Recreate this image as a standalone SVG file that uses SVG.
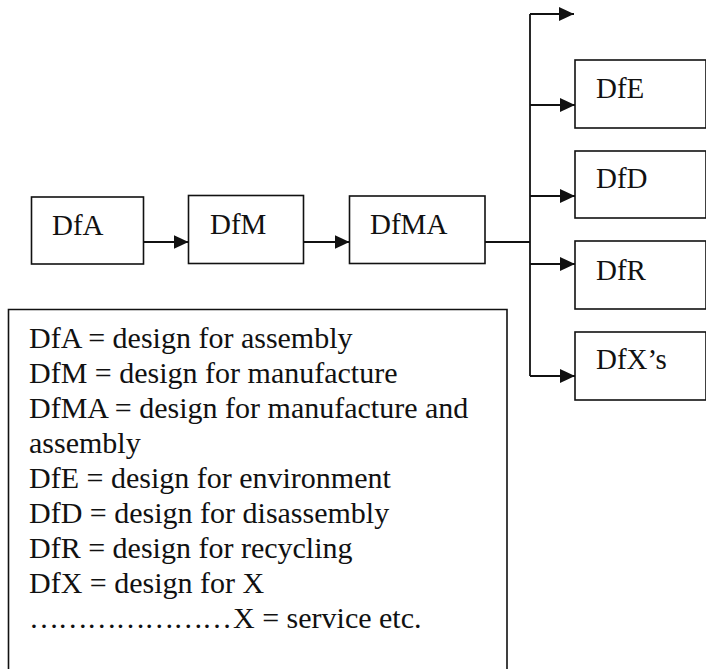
<svg xmlns="http://www.w3.org/2000/svg" width="706" height="669" viewBox="0 0 706 669">
  <style>
    .box { fill: #ffffff; stroke: #111111; stroke-width: 1.6; }
    .lbl { font-family: "Liberation Serif", "Times New Roman", serif; font-size: 29px; fill: #111111; }
    .key { font-family: "Liberation Serif", "Times New Roman", serif; font-size: 30px; fill: #111111; }
    .wire { fill: none; stroke: #111111; stroke-width: 1.8; }
  </style>
  <defs>
    <marker id="arrow" markerUnits="userSpaceOnUse" markerWidth="16" markerHeight="14" refX="15" refY="7" orient="auto">
      <path d="M0,0 L15,7 L0,14 z" fill="#111111"/>
    </marker>
  </defs>
  <rect width="706" height="669" fill="#ffffff"/>

  <!-- main chain -->
  <g id="node-dfa">
    <rect class="box" x="31.5" y="197" width="112" height="67"/>
    <text class="lbl" x="52" y="235">DfA</text>
  </g>
  <g id="node-dfm">
    <rect class="box" x="188.5" y="195.5" width="115" height="68"/>
    <text class="lbl" x="210" y="234">DfM</text>
  </g>
  <g id="node-dfma">
    <rect class="box" x="349.5" y="196" width="135.5" height="67.5"/>
    <text class="lbl" x="370" y="234">DfMA</text>
  </g>

  <!-- downstream branches -->
  <g id="node-dfe">
    <rect class="box" x="575" y="60" width="131" height="68"/>
    <text class="lbl" x="596" y="98">DfE</text>
  </g>
  <g id="node-dfd">
    <rect class="box" x="575" y="151" width="131" height="67"/>
    <text class="lbl" x="596" y="188">DfD</text>
  </g>
  <g id="node-dfr">
    <rect class="box" x="575" y="241" width="131" height="68"/>
    <text class="lbl" x="596" y="280">DfR</text>
  </g>
  <g id="node-dfx">
    <rect class="box" x="575" y="332" width="131" height="68"/>
    <text class="lbl" x="596" y="369">DfX’s</text>
  </g>

  <!-- legend -->
  <g id="legend">
    <path class="box" d="M8.5,670 V309.5 H507 V670" fill="none"/>
    <text class="key" x="29" y="348">DfA = design for assembly</text>
    <text class="key" x="29" y="383">DfM = design for manufacture</text>
    <text class="key" x="29" y="418">DfMA = design for manufacture and</text>
    <text class="key" x="29" y="453">assembly</text>
    <text class="key" x="29" y="488">DfE = design for environment</text>
    <text class="key" x="29" y="523">DfD = design for disassembly</text>
    <text class="key" x="29" y="558">DfR = design for recycling</text>
    <text class="key" x="29" y="593">DfX = design for X</text>
    <text class="key" y="628"><tspan x="29" textLength="203" lengthAdjust="spacing">…………………</tspan><tspan x="233">X = service etc.</tspan></text>
  </g>

  <!-- connectors -->
  <g id="connectors">
    <path class="wire" d="M143.5,242 H188.5" marker-end="url(#arrow)"/>
    <path class="wire" d="M303.5,242 H349.5" marker-end="url(#arrow)"/>
    <path class="wire" d="M485,242 H530"/>
    <path class="wire" d="M530,14 V376"/>
    <path class="wire" d="M530,14 H574" marker-end="url(#arrow)"/>
    <path class="wire" d="M530,105 H575" marker-end="url(#arrow)"/>
    <path class="wire" d="M530,196 H575" marker-end="url(#arrow)"/>
    <path class="wire" d="M530,264 H575" marker-end="url(#arrow)"/>
    <path class="wire" d="M530,376 H575" marker-end="url(#arrow)"/>
  </g>
</svg>
